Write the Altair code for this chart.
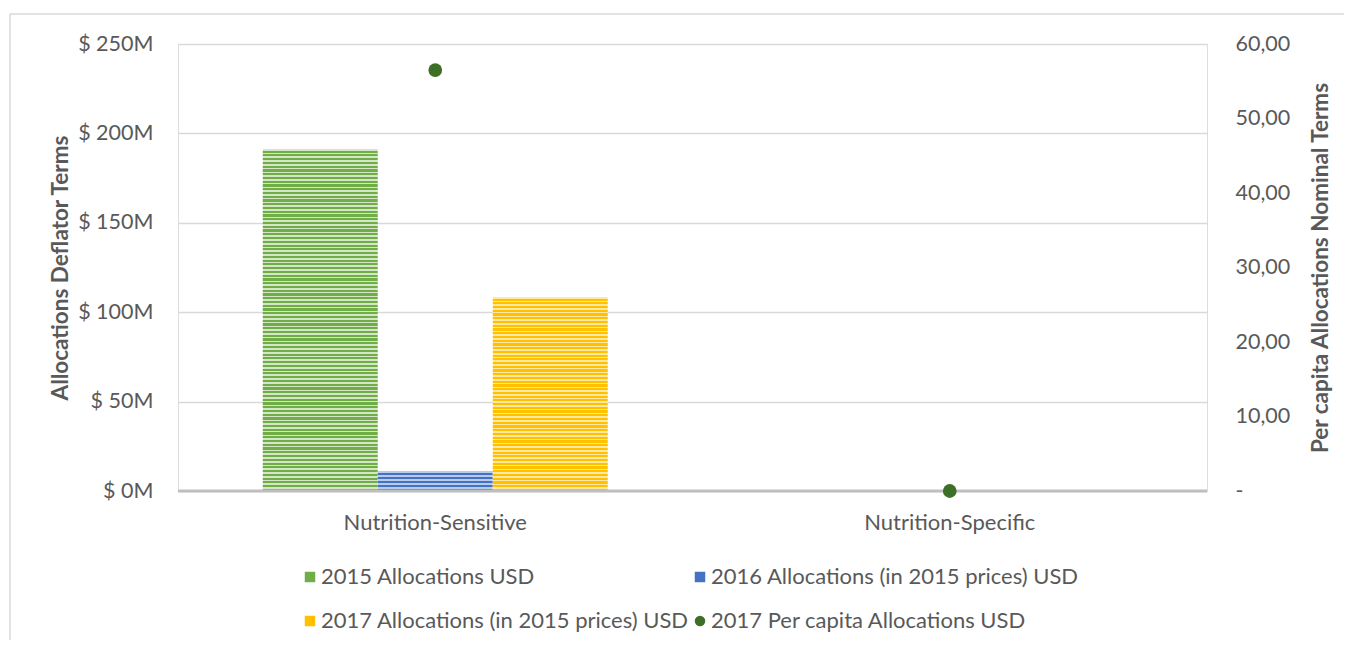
import altair as alt
import pandas as pd

# ---- data ----
categories = ["Nutrition-Sensitive", "Nutrition-Specific"]
series_names = [
    "2015 Allocations USD",
    "2016 Allocations (in 2015 prices) USD",
    "2017 Allocations (in 2015 prices) USD",
    "2017 Per capita Allocations USD",
]
alloc_2015 = [191.3e6, 0.0]
alloc_2016 = [11.2e6, 0.0]
alloc_2017 = [108.5e6, 0.0]
per_capita_2017 = [56.5, 0.0]

left_ticks = [0, 50e6, 100e6, 150e6, 200e6, 250e6]
right_ticks = [0, 10, 20, 30, 40, 50, 60]

# ---- styling ----
FONT = "Lato"
TXT = "#595959"
W, H = 1029, 447
Y_MAX = 250e6
dark = ["#70AD47", "#4472C4", "#FFC000"]
light = ["#D3E7C6", "#B9CBEA", "#FFE8A3"]
DOT = "#3E6F26"

bar_vals = [alloc_2015, alloc_2016, alloc_2017]
rows = []
for s, vals in zip(series_names[:3], bar_vals):
    for c, v in zip(categories, vals):
        rows.append({"category": c, "series": s, "value": v})
bars_df = pd.DataFrame(rows)
pc_df = pd.DataFrame({"category": categories, "series": series_names[3], "value": per_capita_2017})


def stripes(d, l, value):
    h = max(value, 1) / Y_MAX * H
    n = max(1, round(h / 3.75))
    stops = []
    for k in range(n):
        a, m, b = k / n, (k + 0.42) / n, (k + 1) / n
        stops += [
            alt.GradientStop(color=l, offset=a),
            alt.GradientStop(color=l, offset=m),
            alt.GradientStop(color=d, offset=m),
            alt.GradientStop(color=d, offset=b),
        ]
    return alt.LinearGradient(gradient="linear", stops=stops, x1=0, y1=0, x2=0, y2=1)


x_enc = alt.X(
    "category:N",
    sort=categories,
    scale=alt.Scale(paddingInner=0, paddingOuter=0),
    axis=alt.Axis(title=None, labelAngle=0, ticks=False, domain=False, labelPadding=21,
                  labelFontSize=22, labelColor=TXT, labelFont=FONT, labelLimit=500),
)
y_left = alt.Y(
    "value:Q",
    scale=alt.Scale(domain=[0, Y_MAX], nice=False),
    axis=alt.Axis(
        title="Allocations Deflator Terms",
        values=left_ticks,
        labelExpr="'$ ' + format(datum.value / 1000000, 'd') + 'M'",
        ticks=False, domain=False,
        gridColor="#D9D9D9", gridWidth=1.3,
        labelPadding=25, labelFontSize=21.5, labelColor=TXT, labelFont=FONT,
        titleFontSize=22.5, titleFontWeight="bold", titleColor=TXT, titleFont=FONT,
        titleX=-118, titleY=H / 2, titleAngle=-90, titleBaseline="middle", titleAlign="center",
    ),
)

bar_layers = []
for i, s in enumerate(series_names[:3]):
    bar_layers.append(
        alt.Chart(bars_df)
        .transform_filter(alt.datum.series == s)
        .mark_bar(color=stripes(dark[i], light[i], bar_vals[i][0]))
        .encode(
            x=x_enc,
            xOffset=alt.XOffset("series:N", scale=alt.Scale(domain=series_names[:3], paddingInner=0, paddingOuter=0.737)),
            y=y_left,
        )
    )

zero_rule = alt.Chart(pd.DataFrame({"z": [0]})).mark_rule(color="#BFBFBF", strokeWidth=3).encode(
    y=alt.Y("z:Q"), x=alt.value(0), x2=alt.value(W)
)

left_layer = alt.layer(*bar_layers, zero_rule)

legend_cfg = dict(
    title=None, orient="none", legendX=121, legendY=522, columns=2, direction="horizontal",
    padding=0, rowPadding=22, columnPadding=0, labelOffset=0,
    symbolSize=110, labelFontSize=22, labelColor=TXT, labelFont=FONT,
    labelLimit=600,
)

points = alt.Chart(pc_df).mark_point(filled=True, opacity=1, size=190).encode(
    x=x_enc,
    y=alt.Y(
        "value:Q",
        scale=alt.Scale(domain=[0, 60], nice=False),
        axis=alt.Axis(
            orient="right",
            title="Per capita Allocations Nominal Terms",
            values=right_ticks,
            labelExpr="datum.value == 0 ? '-' : replace(format(datum.value, '.2f'), '.', ',')",
            grid=False, ticks=False, domain=False,
            labelPadding=28, labelFontSize=21.5, labelColor=TXT, labelFont=FONT,
            titleFontSize=22.5, titleFontWeight="bold", titleColor=TXT, titleFont=FONT,
            titleX=113, titleY=H / 2, titleAngle=-90, titleBaseline="middle", titleAlign="center",
        ),
    ),
    color=alt.Color(
        "series:N",
        scale=alt.Scale(domain=series_names, range=dark + [DOT]),
        legend=alt.Legend(**legend_cfg),
    ),
    shape=alt.Shape(
        "series:N",
        scale=alt.Scale(domain=series_names, range=["square", "square", "square", "circle"]),
        legend=alt.Legend(**legend_cfg),
    ),
)

frame = alt.Chart(pd.DataFrame({"f": [1]})).mark_rect(fill=None, stroke="#D9D9D9", strokeWidth=1.5).encode(
    x=alt.value(-168), x2=alt.value(W + 200), y=alt.value(-30), y2=alt.value(H + 250)
)

chart = (
    alt.layer(frame, left_layer, points)
    .resolve_scale(y="independent")
    .properties(
        width=W, height=H,
        autosize=alt.AutoSizeParams(type="none"),
        padding={"left": 170, "top": 36, "right": 137, "bottom": 149},
    )
    .configure_view(stroke=None)
    .configure(font=FONT)
)

chart.save("out.html", embed_options={"renderer": "svg", "actions": False})
